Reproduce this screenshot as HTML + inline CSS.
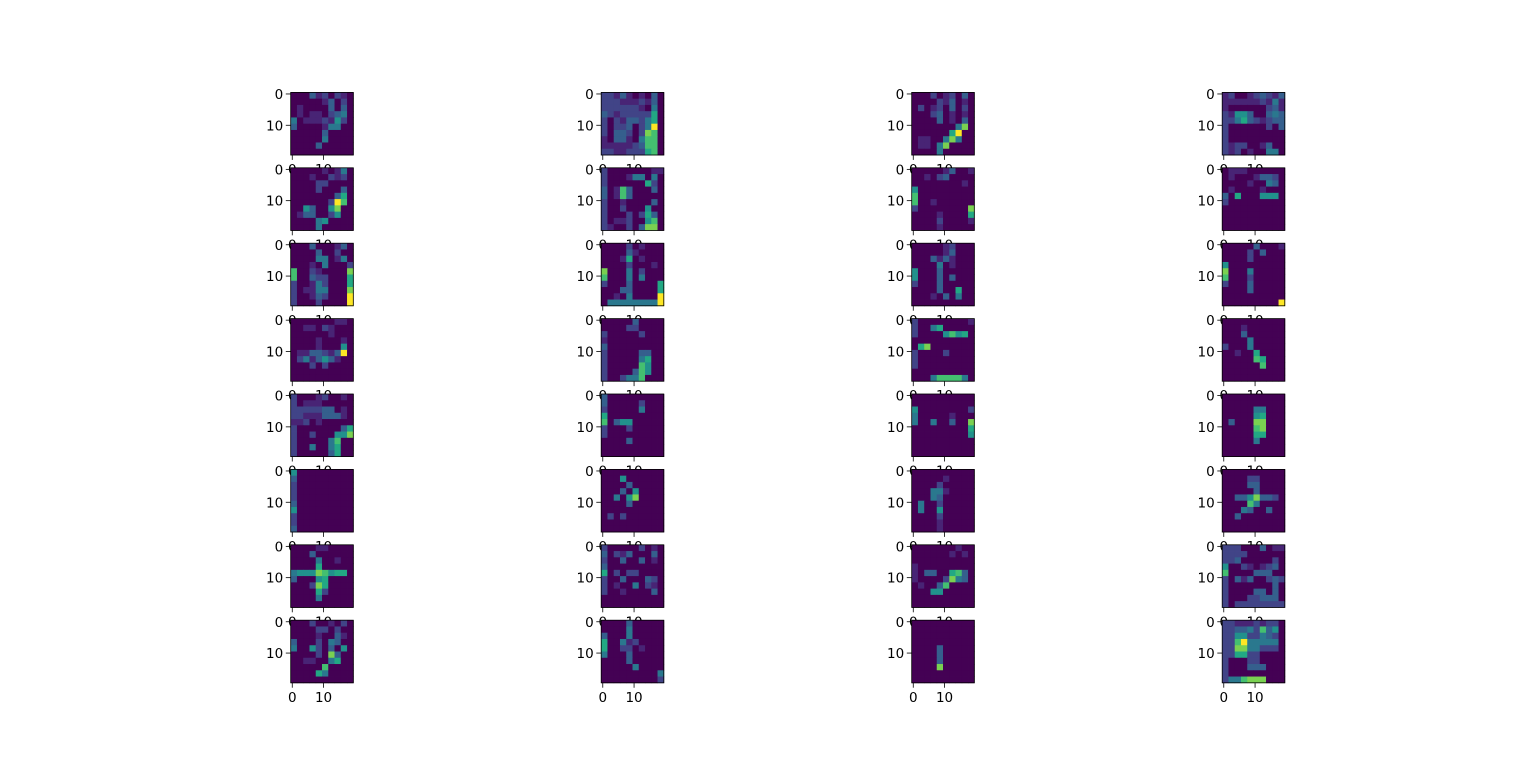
<!DOCTYPE html>
<html><head><meta charset="utf-8"><style>
html,body{margin:0;padding:0;background:#fff;}
svg{display:block;}
text{font-family:"DejaVu Sans","Liberation Sans",sans-serif;font-size:13.5px;fill:#000;}
</style></head><body>
<svg id="fig" width="1536" height="767" viewBox="0 0 1536 767" xmlns="http://www.w3.org/2000/svg"></svg>
<script>
// Data: 32 feature maps (8 rows x 4 cols), each a coarse 10x10 intensity grid (0-9)
const panelRows = 8;
const panelCols = 4;
const xTickValues = [0, 10];
const yTickValues = [0, 10];
const xTickLabels = ["0", "10"];
const yTickLabels = ["0", "10"];
const maps = [
["0003120210","0000013020","0100003030","0101102340","4011121520","3000014400","0000030000","0000040000","0000300000","0000000000"],
["2213101030","2221112130","2222221040","3212222260","2021332460","2022302490","2033202870","1033104770","1111123770","2211222670"],
["0002012030","0000213010","0201203020","0002301010","0000301030","0000000480","0000006900","0110048400","0110480000","0000400000"],
["1200123213","1111112141","1000000231","2155300343","2246321233","2000000203","2000000000","2000000000","2122001300","2120100440"],
["0000010140","0001002120","0000220000","0000200030","0000000360","0000002970","0053005800","0133002500","0000450000","0000400000"],
["2000000011","2000144040","2000000620","3017300030","3017300000","2001000030","2002000500","2000202630","2011200570","2100203880"],
["0000013001","0010230000","0000000010","5000000000","7000000000","7001000000","2000000008","0000100006","0000200001","0000100000"],
["0111000000","0100013320","0000100430","0100001000","3060005550","2000000000","0000000000","0000000000","0000000000","0000000000"],
["0003000130","0000300200","0000440140","0001040002","7002100008","7003220006","2001420006","2011440008","2001320009","2000200009"],
["0000201000","0000310000","0001601000","0000200010","8000402000","7000404000","2000300006","0003300006","0010400009","0444444449"],
["0000012000","0000013000","0003131000","0000401000","5000300000","5000303000","2000300000","0000300600","0001030400","0000000000"],
["0000030001","0000203000","0000200000","5000000000","8000400000","7000200000","2000300000","0000300000","0000000000","0000000009"],
["0000000110","0011021000","0000001000","0000100010","0000100050","0113321390","0241353100","0002020000","0000000000","0000000000"],
["0000030000","0000220000","2000002000","1000000000","3000000000","2000003300","2000004600","2000007500","2000037500","2002447000"],
["2000000001","2004600000","2000057560","0000000000","0680000000","2000020000","2000000000","2000000000","0000000000","0004777740"],
["0000000000","0001000000","0003000000","0000400000","2000400000","0010060000","0000076000","0000007000","0000000000","0000000000"],
["2000120010","2011100000","2222233010","2211133310","1120100000","2000000036","2002000558","2000004700","2004004600","2000003600"],
["3000000000","3000002000","2000004000","6000000000","7035500000","2000200000","2000000000","0000300000","0000000000","0000000000"],
["0000000000","0000000000","5000000002","4000001000","4004003008","0000000006","0000000005","0000000000","0000000000","0000000000"],
["0000000000","0000000000","0000044000","0000056000","0300088000","0000078000","0000066000","0000040000","0000000000","0000000000"],
["5000000000","3000000000","2000000000","2000000000","2000000000","3000000000","5000000000","2000000000","2000000000","3000000000"],
["0000000000","0005000000","0000300000","0003050000","0040580000","0000300000","0000000000","0202000000","0000000000","0000000000"],
["0000000000","0000010000","0000200000","0004410000","0004300000","0400200000","0400500000","0000200000","0000100000","0000100000"],
["0000000000","0000220000","0000330000","0000030000","0033583320","0000740000","0004300300","0030000000","0000000000","0000000000"],
["0000000000","0000000000","0000000000","0000000000","1000000000","1000000000","1000000000","0000000000","0000000000","0000000000"],
["0000000000","0300000000","0030000000","0000000000","0000000000","0000000000","0000000000","0000000000","0000000000","0000000000"],
["0000000030","0000000000","0000000000","0000000000","0000000000","0000000000","0000000000","0000000000","0000000000","0000000000"],
["0000000000","0000000000","0000000000","0000000000","0000000000","0000000000","0000000000","0000000000","0000000000","0000000000"],
["0000000000","0000000000","0000000000","0000000000","0000000000","0000000000","0000000000","0000000000","0000000000","0000000000"],
["0000000000","0000000000","0000000000","0000000000","0000000000","0000000000","0000000000","0000000000","0000000000","0000000000"],
["0000000000","0000000000","0000000000","0000000000","0000000000","0000000000","0000000000","0000000000","0000000000","0000000000"],
["0000000000","0000000000","0000000000","0000000000","0000000000","0000000000","0000000000","0000000000","0000000000","0000000000"]
];
// Panels beyond index 23 refined below (row 6,7 patterns)
const maps2 = [
["0000110000","0003000000","0000400100","0000600000","4555875660","3000560000","0002860000","0000620000","0000400000","0000000000"],
["2000002010","3021300030","2003003010","3000000000","6020220000","2003000320","2010040210","2001000030","0000000000","0000000000"],
["0000000100","0000001010","0000000000","1000000000","1033006730","1000028430","0100370000","0005500000","0000000000","0000000000"],
["2220003011","2222000000","2230000020","5002101230","7000033300","2031300232","2000000030","2000033030","2000223330","2022222222"],
["0002001020","0000220200","0000100310","3000204300","4005203050","0000208300","0011004600","0000070000","0000640000","0000000000"],
["0000300000","0000400000","3000400000","6004120000","6002201000","4000300000","0000300000","0000040000","0000000004","0000000002"],
["0000000000","0000000000","0000000000","0000000000","0000300000","0000300000","0000300000","0000800000","0000000000","0000000000"],
["2211121220","2233427350","2255224320","2279444440","2288442220","2266220000","2000220000","2000333000","2000000000","2447888000"]
];
for (let i = 0; i < 8; i++) maps[24 + i] = maps2[i];

const viridis = ["#440154","#482475","#414487","#355f8d","#2a788e","#21918c","#22a884","#44bf70","#7ad151","#fde725"];
const NS = "http://www.w3.org/2000/svg";
const svg = document.getElementById("fig");
const colLefts = [290.7, 601.2, 911.7, 1222.2];
const top0 = 92.4, rowStep = 75.4, size = 62.6, dataN = 20;

function mk(tag, attrs, parent) {
  const el = document.createElementNS(NS, tag);
  for (const k in attrs) el.setAttribute(k, attrs[k]);
  parent.appendChild(el);
  return el;
}

for (let r = 0; r < panelRows; r++) {
  for (let c = 0; c < panelCols; c++) {
    const idx = r * panelCols + c;
    const left = colLefts[c], top = top0 + r * rowStep;
    const xs = v => left + (v / dataN) * size;
    const ys = v => top + (v / dataN) * size;
    const g = mk("g", {}, svg);
    
    
    const grid = maps[idx];
    const n = grid.length;
    const step = dataN / n;
    for (let i = 0; i < n; i++) {
      for (let j = 0; j < n; j++) {
        const v = +grid[i][j];
        const cell = mk("rect", {x: xs(j * step).toFixed(2), y: ys(i * step).toFixed(2),
          width: (size / n + 0.4).toFixed(2), height: (size / n + 0.4).toFixed(2), fill: viridis[v]}, g);
        
        
      }
    }
    const frame = mk("rect", {x: left, y: top, width: size, height: size, fill: "none", stroke: "#000", "stroke-width": 0.8}, g);
    
    
    // y ticks
    yTickValues.forEach((tv, k) => {
      const y = ys(tv + 0.5);
      mk("line", {x1: left, x2: left - 4.9, y1: y, y2: y, stroke: "#000", "stroke-width": 0.8}, g);
      const t = mk("text", {x: left - 7.5, y: y + 5, "text-anchor": "end"}, g);
      t.textContent = yTickLabels[k];
      
      
    });
    // x ticks
    xTickValues.forEach((tv, k) => {
      const x = xs(tv + 0.5);
      mk("line", {x1: x, x2: x, y1: top + size, y2: top + size + 4.9, stroke: "#000", "stroke-width": 0.8}, g);
      const t = mk("text", {x: x, y: top + size + 19, "text-anchor": "middle"}, g);
      t.textContent = xTickLabels[k];
      
      
    });
  }
}
// Redraw panels on top so tick labels are overlapped by lower panels as in matplotlib
const groups = Array.from(svg.children);
groups.forEach(g => {
  const rects = Array.from(g.querySelectorAll('rect'));
  rects.forEach(rc => g.appendChild(rc));
});
</script>
</body></html>
